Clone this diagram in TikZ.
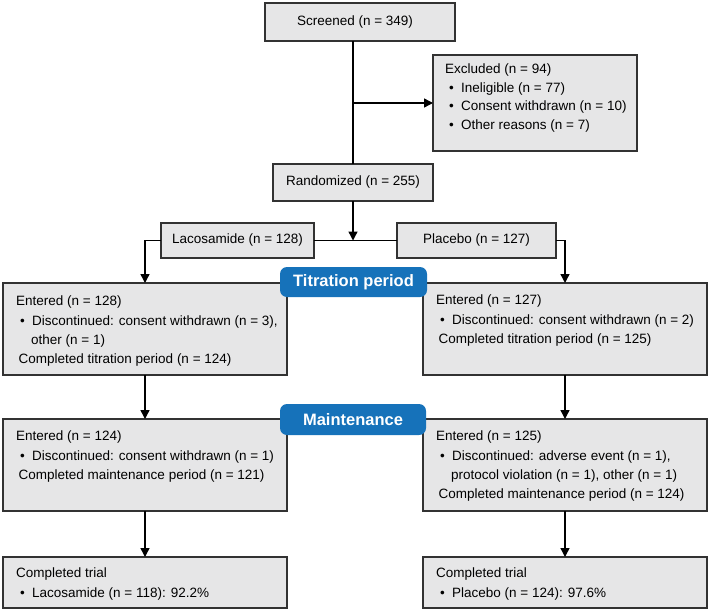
\documentclass[tikz,border=0pt]{standalone}
\usepackage{fontspec}
\setmainfont{Liberation Sans}
\usetikzlibrary{arrows.meta,calc}
\definecolor{boxfill}{RGB}{230,230,231}
\definecolor{boxline}{RGB}{50,50,50}
\definecolor{badgeblue}{RGB}{22,114,186}
\newcommand{\bul}{\hspace*{4pt}\makebox[12pt][l]{•}}
\begin{document}
\begin{tikzpicture}[x=1pt,y=-1pt,
 box/.style={draw=boxline,fill=boxfill,line width=1.4pt,inner sep=0pt,outer sep=0pt},
 txt/.style={anchor=north west,inner sep=0pt,align=left,font=\fontsize{13.5}{19.2}\selectfont},
 ctxt/.style={inner sep=0pt,font=\fontsize{13.5}{16}\selectfont},
 badge/.style={fill=badgeblue,rounded corners=7pt,text=white,font=\bfseries\fontsize{16.5}{18}\selectfont,inner sep=0pt},
 conn/.style={line width=1.4pt,draw=black},
 arr/.style={conn,-{Triangle[length=9pt,width=9pt]}}]
\useasboundingbox (0,0) rectangle (709,610);

% boxes
\node[box,minimum width=190pt,minimum height=38pt] (scr) at (360,22) {};
\node[ctxt] (scrt) at (355,22) {Screened (n = 349)};
\node[box,minimum width=204pt,minimum height=96pt] (exc) at (535,103) {};
\node[txt,font=\fontsize{13.5}{18.4}\selectfont] (exct) at (445,64) {Excluded (n = 94)\\
\bul Ineligible (n = 77)\\
\bul Consent withdrawn (n = 10)\\
\bul Other reasons (n = 7)};
\node[box,minimum width=160pt,minimum height=37pt] (rand) at (353,182.5) {};
\node[ctxt] (randt) at (rand.center) {Randomized (n = 255)};
\node[box,minimum width=153pt,minimum height=35pt] (laco) at (237.5,240.5) {};
\node[ctxt] (lacot) at (laco.center) {Lacosamide (n = 128)};
\node[box,minimum width=159pt,minimum height=35pt] (plac) at (476.5,240.5) {};
\node[ctxt] (plact) at (plac.center) {Placebo (n = 127)};

\node[box,minimum width=284pt,minimum height=92pt] (tl) at (145,329) {};
\node[box,minimum width=284pt,minimum height=92pt] (tr) at (565,329) {};
\node[box,minimum width=284pt,minimum height=92pt] (ml) at (145,465) {};
\node[box,minimum width=284pt,minimum height=92pt] (mr) at (565,465) {};
\node[box,minimum width=284pt,minimum height=51pt] (cl) at (145,582.5) {};
\node[box,minimum width=284pt,minimum height=51pt] (cr) at (565,582.5) {};

\node[txt] (tlt) at (16,296) {Entered (n = 128)\\
\bul Discontinued: consent withdrawn (n = 3),\\
\hspace*{15pt}other (n = 1)\\
\hspace*{2.5pt}Completed titration period (n = 124)};
\node[txt] (trt) at (436,295) {Entered (n = 127)\\
\bul Discontinued: consent withdrawn (n = 2)\\
\hspace*{2.5pt}Completed titration period (n = 125)};
\node[txt] (mlt) at (16,431) {Entered (n = 124)\\
\bul Discontinued: consent withdrawn (n = 1)\\
\hspace*{2.5pt}Completed maintenance period (n = 121)};
\node[txt] (mrt) at (436,431) {Entered (n = 125)\\
\bul Discontinued: adverse event (n = 1),\\
\hspace*{15pt}protocol violation (n = 1), other (n = 1)\\
\hspace*{2.5pt}Completed maintenance period (n = 124)};
\node[txt,font=\fontsize{13.5}{20}\selectfont] (clt) at (16,568) {Completed trial\\
\bul Lacosamide (n = 118): 92.2\%};
\node[txt,font=\fontsize{13.5}{20}\selectfont] (crt) at (436,568) {Completed trial\\
\bul Placebo (n = 124): 97.6\%};

% badges
\node[badge,minimum width=147pt,minimum height=30pt] (bt) at (353.5,282) {Titration period};
\node[badge,minimum width=146pt,minimum height=31pt] (bm) at (353,419.5) {Maintenance};

% connectors
\draw[conn] (scr.south -| rand.north) -- (rand.north);
\draw[arr] (rand.north |- exc.west) -- (exc.west);
\coordinate (j) at (rand.south |- laco.east);
\draw[conn] (laco.east) -- (plac.west);
\draw[arr] (rand.south) -- (j);
\draw[arr] (laco.west) -| (tl.north);
\draw[arr] (plac.east) -| (tr.north);
\draw[arr] (tl.south) -- (ml.north);
\draw[arr] (tr.south) -- (mr.north);
\draw[arr] (ml.south) -- (cl.north);
\draw[arr] (mr.south) -- (cr.north);
\end{tikzpicture}
\end{document}
